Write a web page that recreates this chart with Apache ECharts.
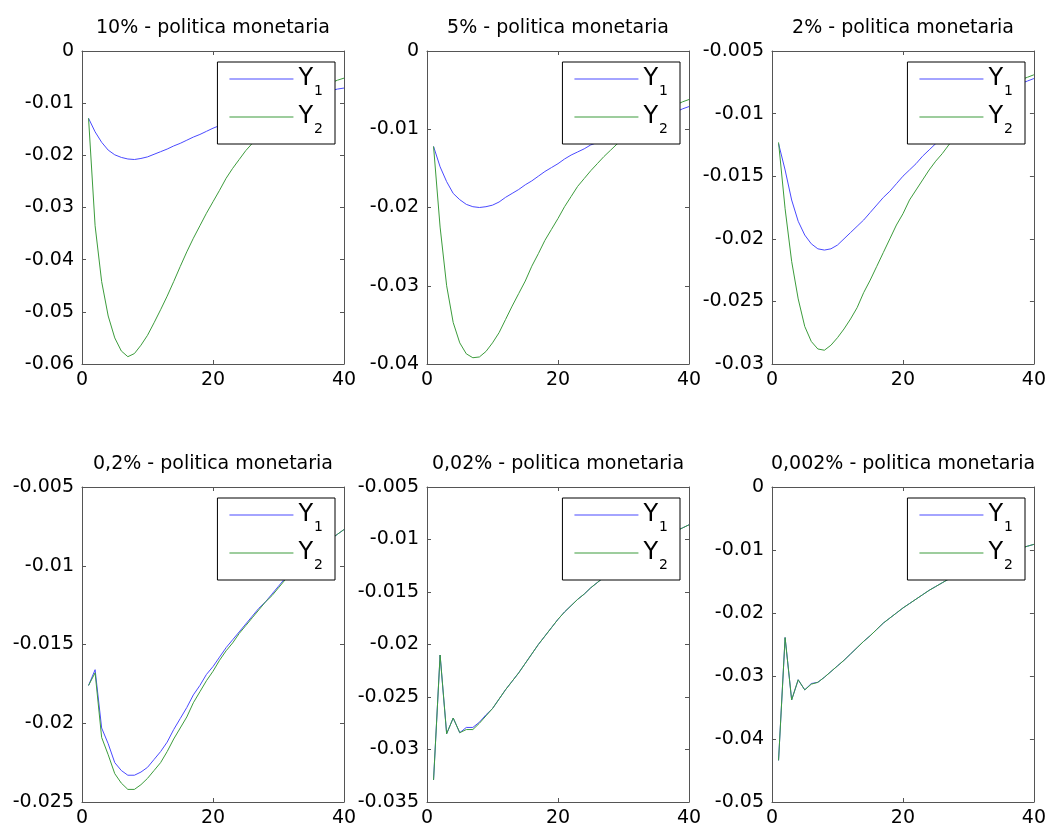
<!DOCTYPE html>
<html>
<head>
<meta charset="utf-8">
<script src="https://cdn.jsdelivr.net/npm/echarts@6/dist/echarts.min.js"></script>
<style>
  html, body { margin: 0; padding: 0; background: #fff; }
  #main { width: 1049px; height: 829px; }
</style>
</head>
<body>
<div id="main"></div>
<script>
// periodi (asse x)
var periods = [1, 2, 3, 4, 5, 6, 7, 8, 9, 10, 11, 12, 13, 14, 15, 16, 17, 18, 19, 20,
               21, 22, 23, 24, 25, 26, 27, 28, 29, 30, 31, 32, 33, 34, 35, 36, 37, 38, 39, 40];

var titles = ['10% - politica monetaria', '5% - politica monetaria', '2% - politica monetaria',
              '0,2% - politica monetaria', '0,02% - politica monetaria', '0,002% - politica monetaria'];
var yMin = [-0.06, -0.04, -0.03, -0.025, -0.035, -0.05];
var yMax = [0, 0, -0.005, -0.005, -0.005, 0];
var yStep = [0.01, 0.01, 0.005, 0.005, 0.005, 0.01];

// 10%
var y1_10 = [-0.0129, -0.0155, -0.0175, -0.0190, -0.0199, -0.0204, -0.0207, -0.0208, -0.0206, -0.0203,
             -0.0198, -0.0193, -0.0188, -0.0182, -0.0177, -0.0171, -0.0165, -0.0160, -0.0154, -0.0148,
             -0.0143, -0.0138, -0.0133, -0.0128, -0.0123, -0.0118, -0.0114, -0.0110, -0.0106, -0.0102,
             -0.0098, -0.0095, -0.0091, -0.0088, -0.0085, -0.0082, -0.0079, -0.0076, -0.0073, -0.0071];
var y2_10 = [-0.0129, -0.0335, -0.0442, -0.0508, -0.0550, -0.0575, -0.0586, -0.0580, -0.0564, -0.0545,
             -0.0521, -0.0496, -0.0470, -0.0442, -0.0413, -0.0385, -0.0359, -0.0335, -0.0311, -0.0289,
             -0.0267, -0.0244, -0.0225, -0.0208, -0.0191, -0.0177, -0.0163, -0.0150, -0.0137, -0.0126,
             -0.0115, -0.0105, -0.0096, -0.0087, -0.0079, -0.0072, -0.0066, -0.0061, -0.0056, -0.0052];
// 5%
var y1_5 = [-0.0122, -0.0148, -0.0167, -0.0182, -0.0190, -0.0196, -0.0199, -0.0200, -0.0199, -0.0197,
            -0.0193, -0.0187, -0.0182, -0.0177, -0.0171, -0.0166, -0.0160, -0.0154, -0.0149, -0.0144,
            -0.0138, -0.0133, -0.0129, -0.0125, -0.0120, -0.0117, -0.0113, -0.0110, -0.0106, -0.0103,
            -0.0100, -0.0097, -0.0094, -0.0091, -0.0088, -0.0085, -0.0082, -0.0078, -0.0074, -0.0071];
var y2_5 = [-0.0122, -0.0225, -0.0300, -0.0347, -0.0373, -0.0387, -0.0392, -0.0391, -0.0384, -0.0373,
            -0.0360, -0.0343, -0.0326, -0.0310, -0.0294, -0.0275, -0.0259, -0.0242, -0.0228, -0.0214,
            -0.0199, -0.0186, -0.0173, -0.0163, -0.0153, -0.0144, -0.0135, -0.0127, -0.0119, -0.0112,
            -0.0105, -0.0099, -0.0093, -0.0088, -0.0083, -0.0078, -0.0073, -0.0069, -0.0065, -0.0062];
// 2%
var y1_2 = [-0.0124, -0.0145, -0.0169, -0.0186, -0.0197, -0.0204, -0.0208, -0.0209, -0.0208, -0.0205,
            -0.0200, -0.0195, -0.0190, -0.0185, -0.0179, -0.0173, -0.0167, -0.0162, -0.0156, -0.0150,
            -0.0145, -0.0140, -0.0134, -0.0129, -0.0124, -0.0119, -0.0114, -0.0110, -0.0106, -0.0102,
            -0.0098, -0.0094, -0.0091, -0.0087, -0.0084, -0.0081, -0.0078, -0.0076, -0.0074, -0.0072];
var y2_2 = [-0.0123, -0.0176, -0.0218, -0.0248, -0.0270, -0.0282, -0.0288, -0.0289, -0.0285, -0.0279,
            -0.0272, -0.0264, -0.0255, -0.0243, -0.0233, -0.0222, -0.0211, -0.0200, -0.0189, -0.0180,
            -0.0169, -0.0161, -0.0153, -0.0145, -0.0138, -0.0132, -0.0125, -0.0119, -0.0113, -0.0107,
            -0.0102, -0.0097, -0.0092, -0.0088, -0.0084, -0.0080, -0.0076, -0.0073, -0.0071, -0.0069];
// 0,2%
var y1_02 = [-0.0176, -0.0166, -0.0203, -0.0213, -0.0225, -0.0230, -0.0233, -0.0233, -0.0231, -0.0228,
             -0.0223, -0.0218, -0.0212, -0.0204, -0.0197, -0.0190, -0.0182, -0.0176, -0.0169, -0.0164,
             -0.0158, -0.0152, -0.0147, -0.0142, -0.0137, -0.0132, -0.0127, -0.0123, -0.0118, -0.0113,
             -0.0108, -0.0104, -0.0100, -0.0097, -0.0093, -0.0090, -0.0087, -0.0083, -0.0080, -0.0077];
var y2_02 = [-0.0176, -0.0168, -0.0209, -0.0220, -0.0232, -0.0238, -0.0242, -0.0242, -0.0239, -0.0235,
             -0.0230, -0.0225, -0.0218, -0.0210, -0.0203, -0.0196, -0.0187, -0.0180, -0.0173, -0.0167,
             -0.0160, -0.0154, -0.0149, -0.0143, -0.0138, -0.0133, -0.0128, -0.0123, -0.0119, -0.0114,
             -0.0109, -0.0105, -0.0101, -0.0097, -0.0093, -0.0090, -0.0087, -0.0083, -0.0080, -0.0077];
// 0,02%
var y1_002 = [-0.0329, -0.0210, -0.0285, -0.0270, -0.0284, -0.0279, -0.0279, -0.0274, -0.0267, -0.0261,
              -0.0252, -0.0243, -0.0235, -0.0227, -0.0218, -0.0209, -0.0200, -0.0192, -0.0184, -0.0176,
              -0.0169, -0.0163, -0.0157, -0.0152, -0.0146, -0.0141, -0.0136, -0.0131, -0.0127, -0.0122,
              -0.0118, -0.0114, -0.0110, -0.0106, -0.0102, -0.0098, -0.0095, -0.0092, -0.0089, -0.0086];
var y2_002 = [-0.0329, -0.0210, -0.0285, -0.0270, -0.0284, -0.0281, -0.0281, -0.0275, -0.0268, -0.0261,
              -0.0252, -0.0243, -0.0235, -0.0227, -0.0218, -0.0209, -0.0200, -0.0192, -0.0184, -0.0176,
              -0.0169, -0.0163, -0.0157, -0.0152, -0.0146, -0.0141, -0.0136, -0.0131, -0.0127, -0.0122,
              -0.0118, -0.0114, -0.0110, -0.0106, -0.0102, -0.0098, -0.0095, -0.0092, -0.0089, -0.0086];
// 0,002%
var y1_0002 = [-0.0434, -0.0239, -0.0338, -0.0306, -0.0322, -0.0312, -0.0310, -0.0302, -0.0293, -0.0284,
               -0.0275, -0.0265, -0.0255, -0.0245, -0.0236, -0.0226, -0.0216, -0.0208, -0.0200, -0.0192,
               -0.0185, -0.0178, -0.0171, -0.0164, -0.0158, -0.0152, -0.0146, -0.0141, -0.0136, -0.0131,
               -0.0126, -0.0121, -0.0117, -0.0113, -0.0109, -0.0105, -0.0101, -0.0097, -0.0094, -0.0091];
var y2_0002 = [-0.0434, -0.0239, -0.0338, -0.0306, -0.0322, -0.0313, -0.0310, -0.0302, -0.0293, -0.0284,
               -0.0275, -0.0265, -0.0255, -0.0245, -0.0236, -0.0226, -0.0216, -0.0208, -0.0200, -0.0192,
               -0.0185, -0.0178, -0.0171, -0.0164, -0.0158, -0.0152, -0.0146, -0.0141, -0.0136, -0.0131,
               -0.0126, -0.0121, -0.0117, -0.0113, -0.0109, -0.0105, -0.0101, -0.0097, -0.0094, -0.0091];

var seriesY1 = [y1_10, y1_5, y1_2, y1_02, y1_002, y1_0002];
var seriesY2 = [y2_10, y2_5, y2_2, y2_02, y2_002, y2_0002];

var FONT = 'DejaVu Sans';
var AXIS_COLOR = '#555';
var BLUE = '#4a4aff';
var GREEN = '#3c9c3c';

var colLeft = [82, 427, 772];
var rowTop = [51, 487];
var rowHeight = [313, 315];
var plotWidth = 262;

function fmt(v) {
    return String(+v.toFixed(4));
}
function pairs(ys) {
    return periods.map(function (p, i) { return [p, ys[i]]; });
}
function axisTick() {
    return { show: true, inside: true, length: 4, lineStyle: { color: AXIS_COLOR } };
}
function axisLine() {
    return { show: true, onZero: false, lineStyle: { color: AXIS_COLOR, width: 1 } };
}

var grids = [], xAxes = [], yAxes = [], series = [], titleList = [], legends = [];

for (var i = 0; i < 6; i++) {
    var gLeft = colLeft[i % 3];
    var gTop = rowTop[Math.floor(i / 3)];
    var gHeight = rowHeight[Math.floor(i / 3)];
    grids.push({ left: gLeft, top: gTop, width: plotWidth, height: gHeight, show: false });

    // box stile matlab: assi su tutti e quattro i lati
    xAxes.push({
        type: 'value', gridIndex: i, position: 'bottom', min: 0, max: 40, interval: 20,
        axisLine: axisLine(), axisTick: axisTick(), splitLine: { show: false },
        axisLabel: { color: '#000', fontFamily: FONT, fontSize: 19, margin: 7 }
    });
    xAxes.push({
        type: 'value', gridIndex: i, position: 'top', min: 0, max: 40, interval: 20,
        axisLine: axisLine(), axisTick: axisTick(), splitLine: { show: false }, axisLabel: { show: false }
    });
    yAxes.push({
        type: 'value', gridIndex: i, position: 'left', min: yMin[i], max: yMax[i], interval: yStep[i],
        axisLine: axisLine(), axisTick: axisTick(), splitLine: { show: false },
        axisLabel: { color: '#000', fontFamily: FONT, fontSize: 19, margin: 8, formatter: fmt }
    });
    yAxes.push({
        type: 'value', gridIndex: i, position: 'right', min: yMin[i], max: yMax[i], interval: yStep[i],
        axisLine: axisLine(), axisTick: axisTick(), splitLine: { show: false }, axisLabel: { show: false }
    });

    series.push({
        name: 'Y1', type: 'line', xAxisIndex: 2 * i, yAxisIndex: 2 * i,
        data: pairs(seriesY1[i]), symbol: 'none',
        itemStyle: { color: BLUE }, lineStyle: { color: BLUE, width: 1 }
    });
    series.push({
        name: 'Y2', type: 'line', xAxisIndex: 2 * i, yAxisIndex: 2 * i,
        data: pairs(seriesY2[i]), symbol: 'none',
        itemStyle: { color: GREEN }, lineStyle: { color: GREEN, width: 1 }
    });

    titleList.push({
        text: titles[i], left: gLeft + plotWidth / 2, top: gTop - 32, textAlign: 'center', padding: 0,
        textStyle: { color: '#000', fontFamily: FONT, fontSize: 19, fontWeight: 'normal' }
    });

    legends.push({
        data: ['Y1', 'Y2'], orient: 'vertical', selectedMode: false,
        right: 1049 - (gLeft + plotWidth - 9), top: gTop + 11,
        backgroundColor: '#fff', borderColor: '#000', borderWidth: 1, borderRadius: 0,
        padding: [3, 12, 3, 12], itemWidth: 64, itemHeight: 1, itemGap: 0, icon: 'rect',
        formatter: function (name) { return '{m|Y}{s|' + name.charAt(1) + '}'; },
        textStyle: {
            color: '#000', fontFamily: FONT,
            rich: {
                m: { fontSize: 24, lineHeight: 28, verticalAlign: 'top', padding: [2, 0, 0, 0], fontFamily: FONT, color: '#000' },
                s: { fontSize: 14, lineHeight: 14, verticalAlign: 'top', padding: [19, 0, 5, 1], fontFamily: FONT, color: '#000' }
            }
        }
    });
}

var myChart = echarts.init(document.getElementById('main'));
var option = {
    backgroundColor: '#fff',
    animation: false,
    title: titleList,
    legend: legends,
    grid: grids,
    xAxis: xAxes,
    yAxis: yAxes,
    series: series
};
myChart.setOption(option);
</script>
</body>
</html>
